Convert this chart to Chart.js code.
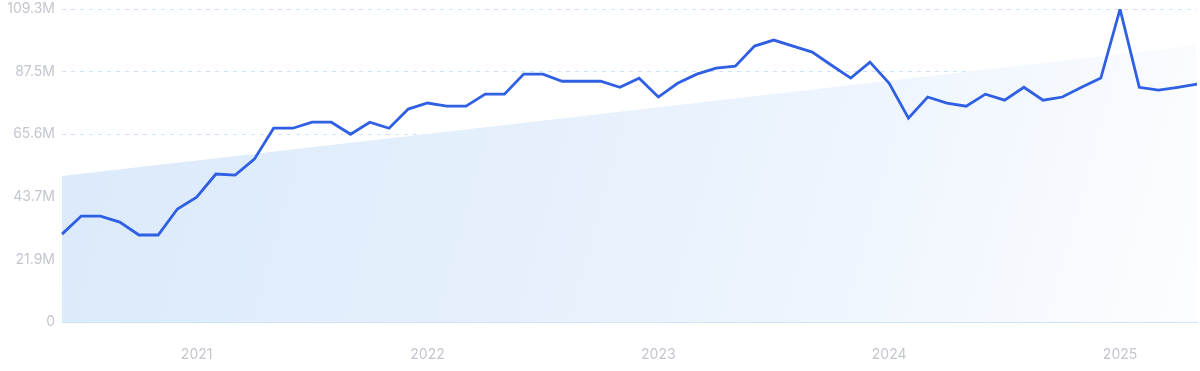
<!DOCTYPE html>
<html>
<head>
<meta charset="utf-8">
<script src="https://cdn.jsdelivr.net/npm/chart.js@4"></script>
<style>
  html, body { margin: 0; padding: 0; background: #fff; overflow: hidden; }
  #wrap { width: 1200px; height: 371px; }
</style>
</head>
<body>
<div id="wrap"><canvas id="chart"></canvas></div>
<script>
// monthly points, Jun 2020 .. May 2025
const months = [
  '2020-06', '2020-07', '2020-08', '2020-09', '2020-10', '2020-11', '2020-12',
  '2021-01', '2021-02', '2021-03', '2021-04', '2021-05', '2021-06', '2021-07', '2021-08', '2021-09', '2021-10', '2021-11', '2021-12',
  '2022-01', '2022-02', '2022-03', '2022-04', '2022-05', '2022-06', '2022-07', '2022-08', '2022-09', '2022-10', '2022-11', '2022-12',
  '2023-01', '2023-02', '2023-03', '2023-04', '2023-05', '2023-06', '2023-07', '2023-08', '2023-09', '2023-10', '2023-11', '2023-12',
  '2024-01', '2024-02', '2024-03', '2024-04', '2024-05', '2024-06', '2024-07', '2024-08', '2024-09', '2024-10', '2024-11', '2024-12',
  '2025-01', '2025-02', '2025-03', '2025-04', '2025-05'
];

// values in millions
const volume = [
  30.7, 37.0, 37.0, 34.9, 30.4, 30.4, 39.5,
  43.6, 51.7, 51.3, 56.9, 67.7, 67.7, 69.8, 69.8, 65.6, 69.8, 67.7, 74.4,
  76.5, 75.4, 75.4, 79.6, 79.6, 86.6, 86.6, 84.1, 84.1, 84.1, 82.0, 85.2,
  78.6, 83.4, 86.6, 88.7, 89.4, 96.4, 98.5, 96.4, 94.3, 89.7, 85.2, 90.8,
  83.4, 71.2, 78.6, 76.5, 75.4, 79.6, 77.5, 82.0, 77.5, 78.6, 82.0, 85.2,
  109.3, 82.0, 81.0, 82.0, 83.1
];

// straight trend: first and last value only, the rest is spanned
const trendStart = 51.0;
const trendEnd = 96.7;

const yTickValues = [0, 21.87, 43.74, 65.61, 87.48, 109.35];
const yTickLabels = ['0', '21.9M', '43.7M', '65.6M', '87.5M', '109.3M'];

const trend = months.map((m, i) => {
  if (i === 0) return trendStart;
  if (i === months.length - 1) return trendEnd;
  return null;
});

const trendFill = (ctx) => {
  const area = ctx.chart.chartArea;
  if (!area) return 'rgba(220,234,250,1)';
  const g = ctx.chart.ctx.createLinearGradient(area.left, area.top, area.right, area.bottom);
  g.addColorStop(0, 'rgba(218,233,250,1)');
  g.addColorStop(0.6, 'rgba(235,243,253,1)');
  g.addColorStop(1, 'rgba(252,253,255,1)');
  return g;
};

const labelColor = '#c3c6ce';

new Chart(document.getElementById('chart'), {
  type: 'line',
  data: {
    labels: months,
    datasets: [
      {
        data: volume,
        borderColor: '#2f5fe3',
        borderWidth: 2.8,
        pointRadius: 0,
        tension: 0,
        fill: false,
        order: 0,
      },
      {
        data: trend,
        spanGaps: true,
        borderWidth: 0,
        borderColor: 'rgba(0,0,0,0)',
        backgroundColor: trendFill,
        pointRadius: 0,
        tension: 0,
        fill: 'origin',
        order: 1,
      },
    ],
  },
  options: {
    responsive: true,
    maintainAspectRatio: false,
    animation: false,
    layout: { padding: { top: 9, right: 3, left: 0, bottom: 0 } },
    plugins: { legend: { display: false }, tooltip: { enabled: false } },
    scales: {
      x: {
        offset: false,
        grid: { display: false, drawTicks: false },
        border: { display: true, color: '#cfe5fb', width: 1 },
        afterFit: (axis) => {
          axis.height = 49;
          axis.paddingLeft = 0;
          axis.paddingRight = 0;
        },
        ticks: {
          autoSkip: false,
          maxRotation: 0,
          padding: 24,
          color: labelColor,
          font: { family: 'Inter', size: 14 },
          callback: function (value) {
            const m = months[value];
            return m.endsWith('-01') ? m.slice(0, 4) : '';
          },
        },
      },
      y: {
        min: 0,
        max: 109.35,
        afterBuildTicks: (axis) => {
          axis.ticks = yTickValues.map((v) => ({ value: v }));
        },
        afterFit: (axis) => {
          axis.width = 62;
          axis.paddingTop = 0;
          axis.paddingBottom = 0;
        },
        grid: {
          color: (c) => (c.tick && c.tick.value === 0 ? 'rgba(0,0,0,0)' : '#cce3fa'),
          drawTicks: false,
        },
        border: { display: false, dash: [4, 5] },
        ticks: {
          padding: 7,
          color: labelColor,
          font: { family: 'Inter', size: 14 },
          callback: (value, index) => yTickLabels[index],
        },
      },
    },
  },
});
</script>
</body>
</html>
